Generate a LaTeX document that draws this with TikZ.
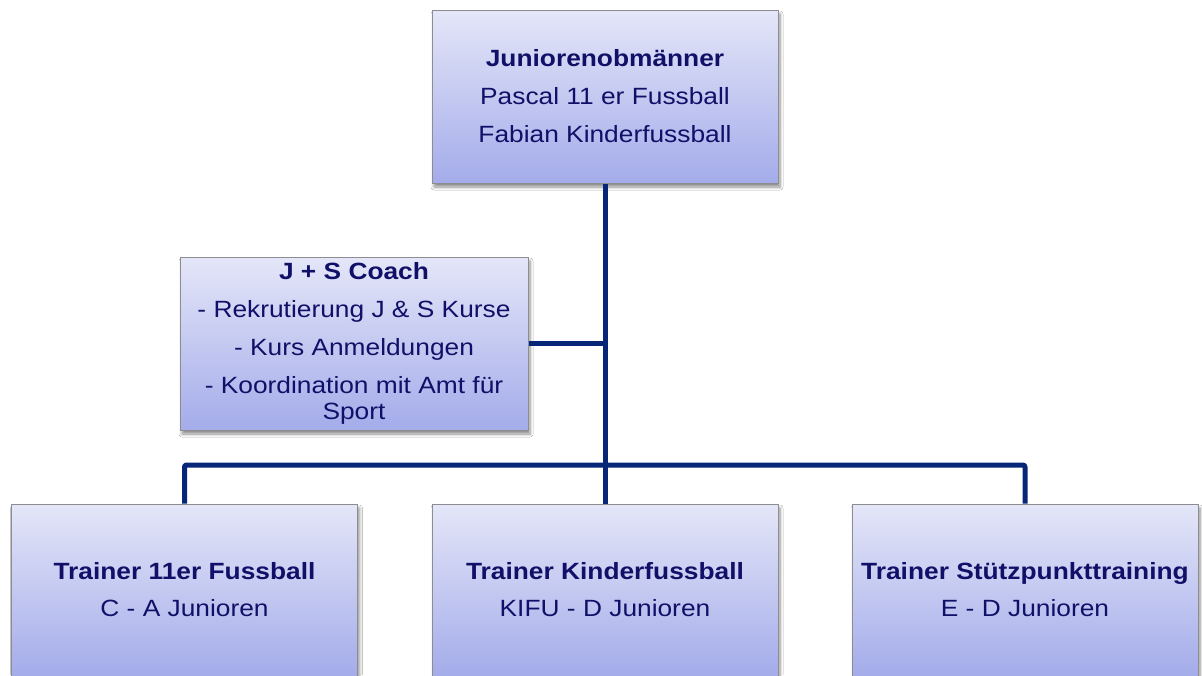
\documentclass[tikz,border=0pt]{standalone}
\usepackage{fontspec}
\setmainfont{Liberation Sans}[FakeStretch=1.12]
\usetikzlibrary{shadows.blur}
\definecolor{boxtop}{RGB}{228,230,248}
\definecolor{boxbot}{RGB}{164,172,234}
\definecolor{boxedge}{RGB}{140,140,145}
\definecolor{linenavy}{RGB}{8,38,120}
\definecolor{txtnavy}{RGB}{16,16,104}
\tikzset{
  orgbox/.style={draw=boxedge, line width=1pt, top color=boxtop, bottom color=boxbot,
    minimum width=346pt, align=center, text=txtnavy, inner sep=0pt,
    font=\fontsize{23.5}{26}\selectfont,
    blur shadow={shadow blur steps=6, shadow blur radius=3pt, shadow xshift=2pt, shadow yshift=-4pt, shadow opacity=45}},
  conn/.style={draw=linenavy, line width=5pt, line join=round, rounded corners=2pt}
}
\begin{document}
\begin{tikzpicture}[x=1pt,y=-1pt]
\useasboundingbox[fill=white] (0,0) rectangle (1202,675);
\node[orgbox, minimum height=173pt] (t) at (605,96.5)
  {{\bfseries Juniorenobmänner}\\[12pt]Pascal 11 er Fussball\\[12pt]Fabian Kinderfussball};
\node[orgbox, minimum width=348pt, minimum height=173pt] (j) at (354,343.5)
  {{\bfseries J + S Coach}\\[12pt]- Rekrutierung J \& S Kurse\\[12pt]- Kurs Anmeldungen\\[12pt]- Koordination mit Amt für\\Sport};
\node[orgbox, minimum height=172pt] (b1) at (184.5,590)
  {{\bfseries Trainer 11er Fussball}\\[11pt]C - A Junioren};
\node[orgbox, minimum height=172pt] (b2) at (605,590)
  {{\bfseries Trainer Kinderfussball}\\[11pt]KIFU - D Junioren};
\node[orgbox, minimum height=172pt] (b3) at (1025,590)
  {{\bfseries Trainer Stützpunkttraining}\\[11pt]E - D Junioren};
\coordinate (bus) at (605,465);
\path[conn] (t.south) -- (b2.north);
\path[conn] (j.east) -- (j.east -| t.south);
\path[conn] (b1.north) -- (b1.north |- bus) -- (b3.north |- bus) -- (b3.north);
\end{tikzpicture}
\end{document}
